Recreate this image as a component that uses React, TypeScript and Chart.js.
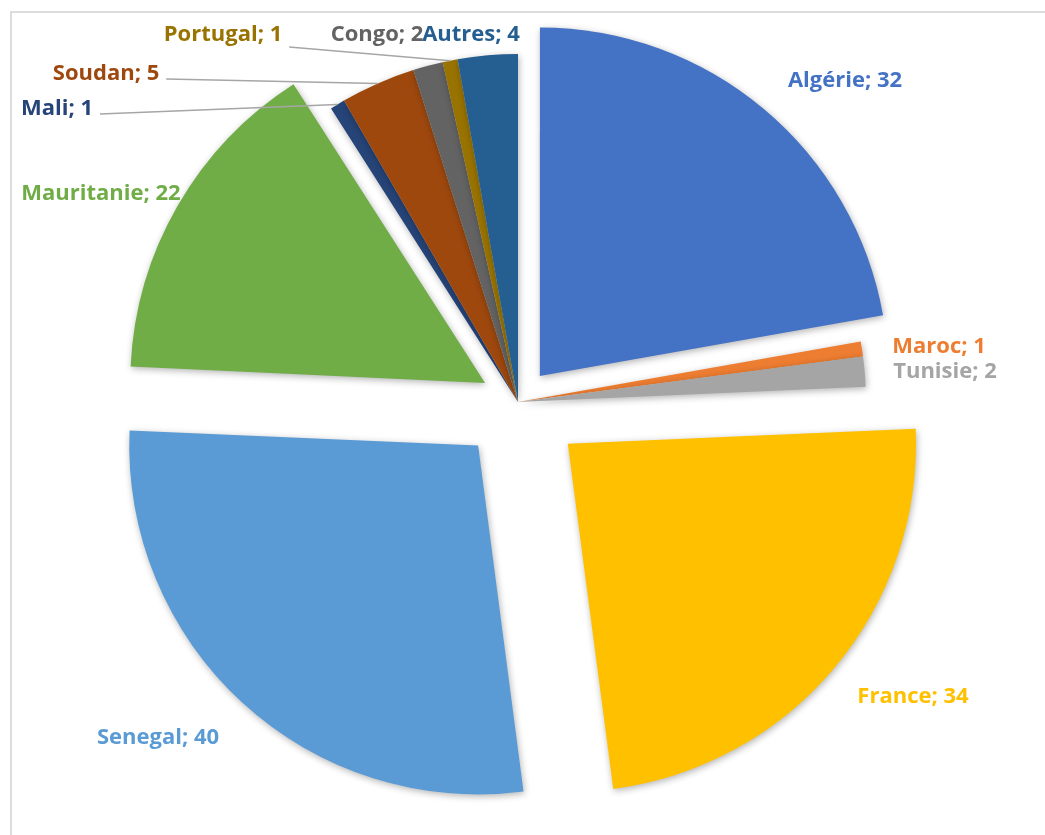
import React, { useEffect, useRef } from 'react';
import { Chart, registerables } from 'chart.js';

Chart.register(...registerables);

// ---- data ----
const countries = ['Algérie', 'Maroc', 'Tunisie', 'France', 'Senegal', 'Mauritanie', 'Mali', 'Soudan', 'Congo', 'Portugal', 'Autres'];
const values = [32, 1, 2, 34, 40, 22, 1, 5, 2, 1, 4];

// ---- styles ----
const sliceColors = ['#4472C4', '#ED7D31', '#A5A5A5', '#FFC000', '#5B9BD5', '#70AD47', '#264478', '#9E480E', '#636363', '#997300', '#255E91'];
// how far each slice is pulled out of the pie (px)
const explodePx = [34, 0, 0, 65, 59, 38, 0, 0, 0, 0, 0];
// label placement: text centre x / baseline y, relative to the pie centre
const labelDx = [327, 421, 427, 395, -360, -417, -461, -412, -141, -295, -47];
const labelDy = [-315, -49, -24, 301, 342, -202, -287, -322, -361, -361, -361];
const hasLeader = [false, false, false, false, false, false, true, true, false, true, false];

const PIE_RADIUS = 348;
const ARC_OFFSET_SCALE = 4; // Chart.js arc translates by offset / 4
const LABEL_FONT = 'bold 22px "Open Sans", Lato, sans-serif';

const labelPlugin = {
  id: 'excelLabels',
  beforeDatasetsDraw(chart: any) {
    const ctx = chart.ctx;
    ctx.save();
    ctx.shadowColor = 'rgba(0,0,0,0.30)';
    ctx.shadowBlur = 7;
    ctx.shadowOffsetX = 1;
    ctx.shadowOffsetY = 2;
  },
  afterDatasetsDraw(chart: any) {
    const ctx = chart.ctx;
    ctx.restore();
    const meta = chart.getDatasetMeta(0);
    ctx.save();
    ctx.font = LABEL_FONT;
    ctx.textAlign = 'center';
    ctx.textBaseline = 'alphabetic';
    meta.data.forEach((arc: any, i: number) => {
      const { x, y, startAngle, endAngle, outerRadius } = arc.getProps(['x', 'y', 'startAngle', 'endAngle', 'outerRadius'], true);
      const text = `${countries[i]}; ${values[i]}`;
      const lx = x + labelDx[i];
      const ly = y + labelDy[i];
      if (hasLeader[i]) {
        const mid = (startAngle + endAngle) / 2;
        const ex = x + Math.cos(mid) * outerRadius;
        const ey = y + Math.sin(mid) * outerRadius;
        const w = ctx.measureText(text).width;
        const sx = lx + w / 2 + 7;
        const sy = ly + (ey > ly + 10 ? 6 : -1);
        ctx.beginPath();
        ctx.moveTo(sx, sy);
        ctx.lineTo(ex, ey);
        ctx.strokeStyle = '#A6A6A6';
        ctx.lineWidth = 1.4;
        ctx.stroke();
      }
      ctx.fillStyle = sliceColors[i];
      ctx.fillText(text, lx, ly);
    });
    ctx.restore();
  },
};

export default function App() {
  const canvasRef = useRef<HTMLCanvasElement | null>(null);

  useEffect(() => {
    if (!canvasRef.current) return;
    const chart = new Chart(canvasRef.current, {
      type: 'pie',
      data: {
        labels: countries,
        datasets: [
          {
            data: values,
            backgroundColor: sliceColors,
            borderWidth: 0,
            hoverBorderWidth: 0,
            hoverOffset: 0,
            offset: explodePx.map((p) => p * ARC_OFFSET_SCALE),
          },
        ],
      },
      options: {
        responsive: false,
        animation: false,
        radius: PIE_RADIUS,
        layout: { padding: { left: 0, right: 9, top: 0, bottom: 31 } },
        plugins: {
          legend: { display: false },
          tooltip: { enabled: false },
          title: { display: false },
        },
        events: [],
      } as any,
      plugins: [labelPlugin],
    });
    return () => chart.destroy();
  }, []);

  return (
    <div style={{ position: 'fixed', left: 0, top: 0, width: 1045, height: 835, background: '#fff', overflow: 'hidden' }}>
      <div
        style={{
          position: 'absolute',
          left: 10,
          top: 11,
          width: 1100,
          height: 900,
          borderTop: '2px solid #DCDCDC',
          borderLeft: '2px solid #DCDCDC',
          boxSizing: 'border-box',
        }}
      />
      <canvas ref={canvasRef} width={1045} height={835} style={{ position: 'absolute', left: 0, top: 0, display: 'block' }} />
    </div>
  );
}
